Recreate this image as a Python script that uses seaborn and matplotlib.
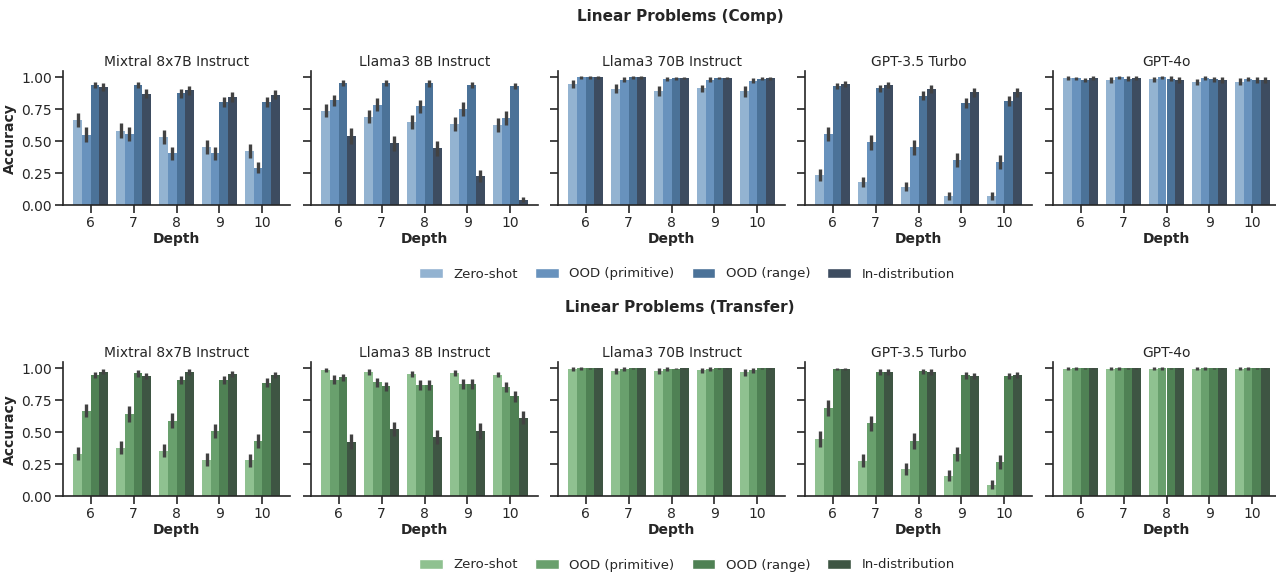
import pandas as pd
import seaborn as sns
import matplotlib.pyplot as plt
from matplotlib.patches import Patch

depths=[6,7,8,9,10]
conditions=['Zero-shot','OOD (primitive)','OOD (range)','In-distribution']
models=['Mixtral 8x7B Instruct','Llama3 8B Instruct','Llama3 70B Instruct','GPT-3.5 Turbo','GPT-4o']

# mean accuracy, one list per condition over depth 6..10
comp_acc={
    'Mixtral 8x7B Instruct':[[0.667,0.583,0.536,0.453,0.42],[0.55,0.557,0.406,0.406,0.294],[0.94,0.94,0.875,0.807,0.807],[0.92,0.87,0.896,0.844,0.862]],
    'Llama3 8B Instruct':[[0.737,0.69,0.648,0.633,0.625],[0.818,0.784,0.773,0.753,0.68],[0.956,0.956,0.95,0.94,0.93],[0.539,0.484,0.445,0.229,0.042]],
    'Llama3 70B Instruct':[[0.945,0.909,0.893,0.911,0.888],[0.997,0.979,0.987,0.979,0.971],[0.997,0.997,0.99,0.992,0.987],[0.997,0.997,0.992,0.992,0.99]],
    'GPT-3.5 Turbo':[[0.237,0.18,0.146,0.075,0.07],[0.557,0.49,0.453,0.354,0.336],[0.93,0.911,0.854,0.797,0.815],[0.945,0.937,0.906,0.883,0.883]],
    'GPT-4o':[[0.99,0.977,0.984,0.96,0.964],[0.99,0.997,0.997,0.992,0.987],[0.98,0.987,0.987,0.982,0.977],[0.99,0.992,0.977,0.977,0.977]],
}
comp_err={
    'Mixtral 8x7B Instruct':[[0.055,0.055,0.055,0.055,0.055],[0.06,0.055,0.05,0.05,0.045],[0.025,0.025,0.035,0.04,0.04],[0.03,0.035,0.035,0.04,0.035]],
    'Llama3 8B Instruct':[[0.05,0.05,0.055,0.055,0.055],[0.045,0.05,0.05,0.055,0.055],[0.025,0.025,0.025,0.025,0.025],[0.06,0.06,0.06,0.05,0.02]],
    'Llama3 70B Instruct':[[0.03,0.035,0.04,0.03,0.04],[0.01,0.02,0.015,0.02,0.02],[0.01,0.01,0.01,0.01,0.01],[0.01,0.01,0.01,0.01,0.01]],
    'GPT-3.5 Turbo':[[0.045,0.04,0.035,0.03,0.03],[0.055,0.06,0.06,0.055,0.055],[0.025,0.03,0.035,0.04,0.04],[0.025,0.025,0.03,0.035,0.035]],
    'GPT-4o':[[0.015,0.02,0.02,0.025,0.025],[0.01,0.01,0.01,0.015,0.015],[0.015,0.02,0.02,0.02,0.025],[0.015,0.015,0.02,0.02,0.02]],
}
transfer_acc={
    'Mixtral 8x7B Instruct':[[0.331,0.38,0.354,0.284,0.281],[0.667,0.643,0.591,0.508,0.43],[0.945,0.958,0.909,0.909,0.885],[0.971,0.937,0.969,0.953,0.945]],
    'Llama3 8B Instruct':[[0.984,0.969,0.953,0.961,0.948],[0.909,0.89,0.87,0.875,0.854],[0.927,0.859,0.87,0.875,0.779],[0.427,0.526,0.464,0.508,0.612]],
    'Llama3 70B Instruct':[[0.99,0.979,0.979,0.984,0.966],[0.998,0.99,0.99,0.99,0.984],[0.998,0.998,0.996,0.998,0.998],[0.998,0.998,0.998,0.998,0.998]],
    'GPT-3.5 Turbo':[[0.448,0.279,0.211,0.161,0.089],[0.69,0.568,0.43,0.331,0.266],[0.992,0.969,0.974,0.943,0.94],[0.992,0.969,0.969,0.94,0.948]],
    'GPT-4o':[[0.996,0.996,0.996,0.996,0.995],[0.997,0.997,0.997,0.997,0.997],[0.998,0.998,0.998,0.998,0.998],[0.998,0.998,0.998,0.998,0.998]],
}
transfer_err={
    'Mixtral 8x7B Instruct':[[0.05,0.05,0.05,0.05,0.05],[0.05,0.06,0.055,0.055,0.055],[0.025,0.025,0.03,0.03,0.035],[0.02,0.025,0.02,0.025,0.025]],
    'Llama3 8B Instruct':[[0.015,0.02,0.025,0.025,0.02],[0.035,0.035,0.04,0.04,0.04],[0.03,0.035,0.04,0.04,0.04],[0.06,0.055,0.055,0.06,0.05]],
    'Llama3 70B Instruct':[[0.015,0.025,0.025,0.02,0.025],[0.01,0.015,0.015,0.015,0.02],[0.005,0.005,0.005,0.005,0.005],[0.005,0.005,0.005,0.005,0.005]],
    'GPT-3.5 Turbo':[[0.06,0.05,0.045,0.045,0.035],[0.06,0.06,0.06,0.055,0.055],[0.01,0.02,0.02,0.025,0.025],[0.01,0.02,0.02,0.025,0.025]],
    'GPT-4o':[[0.01,0.01,0.01,0.01,0.01],[0.01,0.01,0.01,0.01,0.01],[0.005,0.005,0.005,0.005,0.005],[0.005,0.005,0.005,0.005,0.005]],
}
blues=['#93b3d1','#6892bd','#4b7298','#3d4c60']
greens=['#8fc190','#69a06d','#4f8154','#3e5543']

sns.set_style('ticks')
plt.rcParams['font.family']=['DejaVu Sans']

W,H=1276,573
fig=plt.figure(figsize=(W/100,H/100),dpi=100)

rows=[('Linear Problems (Comp)',comp_acc,comp_err,blues,205.3,17,274),
      ('Linear Problems (Transfer)',transfer_acc,transfer_err,greens,496.3,307,565)]
lefts=[63,311,558,805,1053]

for title,acc,err,pal,y0,ty,ly in rows:
    for mi,m in enumerate(models):
        recs=[]
        for ci,c in enumerate(conditions):
            for di,d in enumerate(depths):
                recs.append({'Depth':d,'Accuracy':acc[m][ci][di],'Condition':c})
        df=pd.DataFrame(recs)
        ax=fig.add_axes([lefts[mi]/W,1-y0/H,227/W,134/H])
        sns.barplot(data=df,x='Depth',y='Accuracy',hue='Condition',hue_order=conditions,
                    palette=pal,saturation=1,errorbar=None,width=0.8,linewidth=0,ax=ax,legend=False)
        bars=list(ax.containers)
        for ci,cont in enumerate(bars):
            xs=[b.get_x()+b.get_width()/2 for b in cont]
            ys=[b.get_height() for b in cont]
            ax.errorbar(xs,ys,yerr=err[m][ci],fmt='none',ecolor='#424242',elinewidth=2.4,capsize=0)
        ax.set_ylim(0,1.045)
        ax.set_yticks([0,0.25,0.5,0.75,1.0])
        ax.set_title(m,fontsize=10,pad=4)
        ax.set_xlabel('Depth',fontsize=10,fontweight='bold',labelpad=1)
        ax.tick_params(labelsize=10,length=6,width=1.2,pad=2)
        for s in ['left','bottom']:
            ax.spines[s].set_linewidth(1.2)
        sns.despine(ax=ax)
        if mi==0:
            ax.set_yticklabels(['0.00','0.25','0.50','0.75','1.00'])
            ax.set_ylabel('Accuracy',fontsize=10,fontweight='bold',labelpad=3)
        else:
            ax.set_yticklabels([])
            ax.set_ylabel('')
    fig.text(680/W,1-ty/H,title,ha='center',va='center',fontsize=11,fontweight='bold')
    handles=[Patch(facecolor=pal[i],label=conditions[i]) for i in range(4)]
    fig.legend(handles=handles,loc='center',bbox_to_anchor=(687/W,1-ly/H),ncol=4,frameon=False,
               fontsize=9.5,columnspacing=1.3,handlelength=1.8)

fig.savefig('out.png',dpi=100)
